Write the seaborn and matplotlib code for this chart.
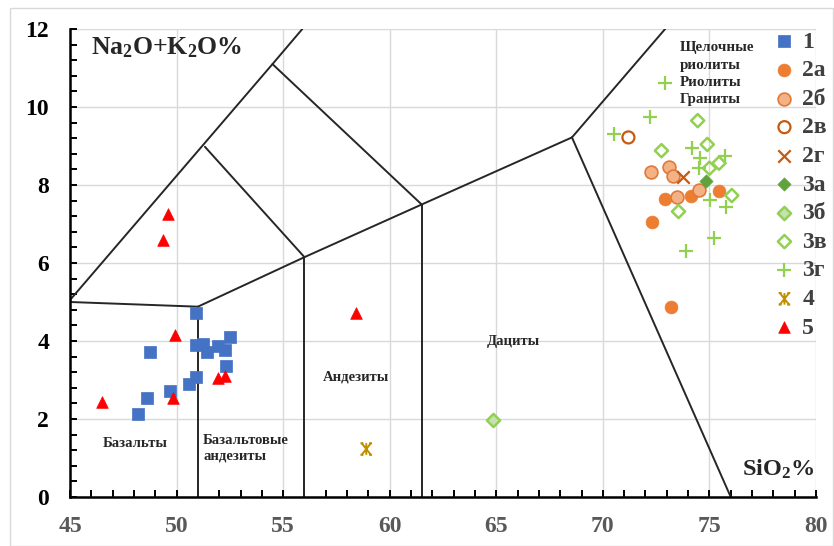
import numpy as np
import pandas as pd
import matplotlib
matplotlib.use("Agg")
import matplotlib.pyplot as plt
import seaborn as sns
from matplotlib.path import Path
from matplotlib.patches import Rectangle
from matplotlib.ticker import MultipleLocator

# ---------------- data ----------------
x_1 = [50.9, 48.75, 50.9, 51.25, 51.45, 51.95, 52.25, 52.5, 52.3, 50.9, 50.6, 49.7, 48.6, 48.2]
y_1 = [4.73, 3.73, 3.90, 3.92, 3.73, 3.87, 3.77, 4.11, 3.35, 3.07, 2.91, 2.73, 2.55, 2.12]

x_2a = [75.45, 74.15, 72.9, 72.3, 73.2]
y_2a = [7.85, 7.72, 7.63, 7.05, 4.87]

x_2b = [72.25, 73.1, 73.3, 74.5, 73.5]
y_2b = [8.33, 8.47, 8.23, 7.87, 7.68]

x_2v = [71.2]
y_2v = [9.22]

x_2g = [73.75]
y_2g = [8.20]

x_3a = [74.85]
y_3a = [8.09]

x_3b = [64.85]
y_3b = [1.98]

x_3v = [74.45, 72.75, 74.9, 75.45, 75.0, 76.05, 73.55]
y_3v = [9.65, 8.88, 9.04, 8.56, 8.43, 7.73, 7.32]

x_3g = [72.9, 72.2, 70.5, 74.2, 74.55, 75.75, 74.5, 75.05, 75.8, 75.2, 73.9]
y_3g = [10.62, 9.74, 9.30, 8.96, 8.68, 8.74, 8.43, 7.62, 7.44, 6.65, 6.31]

x_4 = [58.9]
y_4 = [1.23]

x_5 = [49.6, 49.35, 49.93, 46.5, 49.85, 51.95, 52.27, 58.4]
y_5 = [7.26, 6.58, 4.16, 2.44, 2.55, 3.05, 3.10, 4.73]

# TAS field boundaries (polylines)
bound_lines = [
    ([45.0, 54.5, 55.9], [5.05, 11.1, 12.0]),
    ([45.0, 51.0], [5.0, 4.88]),
    ([51.0, 51.0], [4.88, 0.0]),
    ([51.0, 56.0, 61.5, 68.55], [4.88, 6.15, 7.5, 9.22]),
    ([54.5, 61.5], [11.1, 7.5]),
    ([51.33, 56.0], [8.98, 6.15]),
    ([56.0, 56.0], [6.15, 0.0]),
    ([61.5, 61.5], [7.5, 0.0]),
    ([68.55, 73.0], [9.22, 12.05]),
    ([68.55, 76.0], [9.22, 0.0]),
]

region_labels = ["Базальты", "Базальтовые\nандезиты", "Андезиты", "Дациты",
                 "Щелочные\nриолиты\nРиолиты\nГраниты"]

# ---------------- style ----------------
sns.set_theme(style="white")
plt.rcParams["font.family"] = ["Liberation Serif", "DejaVu Serif"]
plt.rcParams["font.weight"] = "bold"
plt.rcParams["mathtext.fontset"] = "custom"
plt.rcParams["mathtext.rm"] = "Liberation Serif:bold"
plt.rcParams["mathtext.it"] = "Liberation Serif:bold"
plt.rcParams["mathtext.bf"] = "Liberation Serif:bold"

fig = plt.figure(figsize=(8.34, 5.46), dpi=100)
ax = fig.add_axes([70 / 834, 49 / 546, 746 / 834, 468 / 546])

# figure border
fig.patches.append(Rectangle((10 / 834, 0.5 / 546), 823 / 834, 538 / 546,
                             transform=fig.transFigure, fill=False, edgecolor="#D9D9D9"))

ax.set_xlim(45, 80)
ax.set_ylim(0, 12)
ax.grid(True, which="major", color="#D9D9D9", linewidth=1.0)

for xs, ys in bound_lines:
    sns.lineplot(x=xs, y=ys, ax=ax, color="#262626", linewidth=1.4,
                 sort=False, estimator=None, legend=False)

# asterisk-like marker for series 4
star_path = Path(
    [(0, -1), (0, 1), (-0.8, -1), (0.8, 1), (-0.8, 1), (0.8, -1),
     (-1.0, 1), (-0.5, 1), (0.5, -1), (1.0, -1), (-1.0, -1), (-0.5, -1), (0.5, 1), (1.0, 1)],
    [Path.MOVETO, Path.LINETO, Path.MOVETO, Path.LINETO, Path.MOVETO, Path.LINETO,
     Path.MOVETO, Path.LINETO, Path.MOVETO, Path.LINETO, Path.MOVETO, Path.LINETO,
     Path.MOVETO, Path.LINETO])

series = [
    ("1", x_1, y_1, dict(marker="s", s=75, color="#4472C4", edgecolor="#4472C4", linewidth=0.5)),
    ("2а", x_2a, y_2a, dict(marker="o", s=85, color="#ED7D31", edgecolor="#ED7D31", linewidth=0.5)),
    ("2б", x_2b, y_2b, dict(marker="o", s=85, color="#F4B183", edgecolor="#E07A3A", linewidth=1.2)),
    ("2в", x_2v, y_2v, dict(marker="o", s=75, color="#C55A11", facecolor="none", edgecolor="#C55A11", linewidth=1.6)),
    ("2г", x_2g, y_2g, dict(marker="x", s=80, color="#C55A11", linewidth=1.6)),
    ("3а", x_3a, y_3a, dict(marker="D", s=45, color="#5FA33A", edgecolor="#5FA33A", linewidth=0.5)),
    ("3б", x_3b, y_3b, dict(marker="D", s=45, color="#C5E0B4", edgecolor="#92D050", linewidth=1.8)),
    ("3в", x_3v, y_3v, dict(marker="D", s=45, color="#92D050", facecolor="none", edgecolor="#92D050", linewidth=1.8)),
    ("3г", x_3g, y_3g, dict(marker="+", s=90, color="#92D050", linewidth=1.6)),
    ("4", x_4, y_4, dict(marker=star_path, s=70, color="#BF9000", facecolor="none", edgecolor="#BF9000", linewidth=1.4)),
    ("5", x_5, y_5, dict(marker="^", s=70, color="#FF0000", edgecolor="#FF0000", linewidth=0.5)),
]

for label, xs, ys, kw in series:
    sns.scatterplot(x=xs, y=ys, ax=ax, label=label, legend=False, zorder=3, **kw)

# axes styling
ax.spines["top"].set_visible(False)
ax.spines["right"].set_visible(False)
for sp in ("left", "bottom"):
    ax.spines[sp].set_color("black")
    ax.spines[sp].set_linewidth(1.8)
ax.set_xlim(45, 80)
ax.set_ylim(0, 12)
ax.xaxis.set_major_locator(MultipleLocator(5))
ax.xaxis.set_minor_locator(MultipleLocator(1))
ax.yaxis.set_major_locator(MultipleLocator(2))
ax.yaxis.set_minor_locator(MultipleLocator(0.4))
ax.tick_params(axis="both", which="both", direction="in", length=5, width=1.4, color="black",
               bottom=True, left=True)
ax.tick_params(axis="x", which="major", labelsize=17, labelcolor="#595959", pad=14)
ax.tick_params(axis="y", which="major", labelsize=17, labelcolor="black", pad=15)

# axis titles inside
ax.text(46.0, 11.52, "Na$_2$O+K$_2$O%", fontsize=18.5, fontweight="bold", va="center", ha="left")
ax.text(79.9, 0.7, "SiO$_2$%", fontsize=17.5, fontweight="bold", va="center", ha="right")

# region labels
ax.text(48.05, 1.38, region_labels[0], fontsize=10.5, fontweight="bold", ha="center", va="center", color="#262626")
ax.text(51.25, 1.25, region_labels[1], fontsize=10.5, fontweight="bold", ha="left", va="center",
        color="#262626", linespacing=1.2)
ax.text(58.4, 3.08, region_labels[2], fontsize=10.5, fontweight="bold", ha="center", va="center", color="#262626")
ax.text(65.8, 4.0, region_labels[3], fontsize=10.5, fontweight="bold", ha="center", va="center", color="#262626")
ax.text(73.6, 11.68, region_labels[4], fontsize=10.8, fontweight="bold", ha="left", va="top",
        color="#262626", linespacing=1.42)

handles, labels = ax.get_legend_handles_labels()
leg = fig.legend(handles, labels, loc="upper left", bbox_to_anchor=(775 / 834, 1 - 31 / 546),
                 frameon=False, fontsize=17, handlelength=0.8, handletextpad=0.35,
                 labelspacing=0.3, borderaxespad=0, borderpad=0, scatterpoints=1)
for t in leg.get_texts():
    t.set_color("#404040")

fig.savefig("out.png", dpi=100)
